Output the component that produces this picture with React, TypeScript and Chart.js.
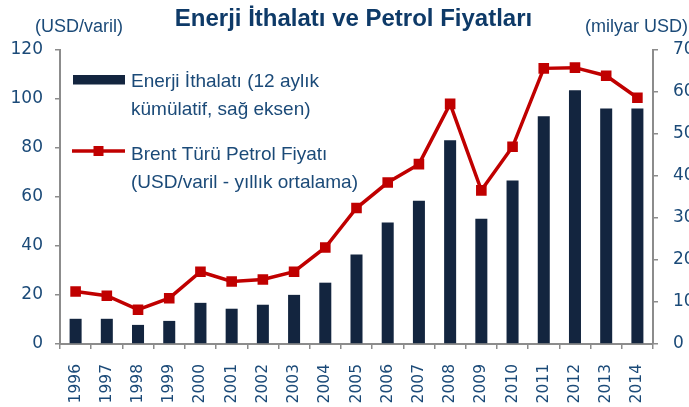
import React, { useEffect, useRef } from "react";
import { Chart, registerables } from "chart.js";

Chart.register(...registerables);

const years = ["1996","1997","1998","1999","2000","2001","2002","2003","2004","2005","2006","2007","2008","2009","2010","2011","2012","2013","2014"];
const brentPrice = [21.4, 19.7, 14.0, 18.7, 29.5, 25.5, 26.3, 29.5, 39.4, 55.5, 65.9, 73.4, 98.0, 62.7, 80.5, 112.5, 112.8, 109.5, 100.5];
const energyImports = [6.0, 6.0, 4.55, 5.5, 9.8, 8.4, 9.35, 11.7, 14.6, 21.3, 28.9, 34.1, 48.5, 29.8, 38.9, 54.2, 60.4, 56.1, 56.1];

const titleText = "Enerji İthalatı ve Petrol Fiyatları";
const leftAxisTitle = "(USD/varil)";
const rightAxisTitle = "(milyar USD)";
const barLegend = ["Enerji İthalatı (12 aylık", "kümülatif, sağ eksen)"];
const lineLegend = ["Brent Türü Petrol Fiyatı", "(USD/varil - yıllık ortalama)"];

const NAVY = "#13253f";
const RED = "#c00000";
const TEXT = "#1b4a78";
const AXIS = "#8c8c8c";

const overlayPlugin = {
  id: "overlay",
  afterDraw(chart: any) {
    const ctx = chart.ctx as CanvasRenderingContext2D;
    ctx.save();
    ctx.textBaseline = "alphabetic";
    // title
    ctx.fillStyle = "#0e3a68";
    ctx.font = "bold 24px 'Liberation Sans'";
    ctx.textAlign = "center";
    ctx.fillText(titleText, 353.5, 26);
    // axis titles
    ctx.fillStyle = TEXT;
    ctx.font = "18px 'Liberation Sans'";
    ctx.textAlign = "left";
    ctx.fillText(leftAxisTitle, 35, 32);
    ctx.fillText(rightAxisTitle, 585, 32);
    // legend
    const lx = chart.chartArea.left;
    ctx.fillStyle = NAVY;
    ctx.fillRect(lx + 13, 75, 52, 9.5);
    ctx.strokeStyle = RED;
    ctx.lineWidth = 3.5;
    ctx.beginPath();
    ctx.moveTo(lx + 12, 151);
    ctx.lineTo(lx + 65, 151);
    ctx.stroke();
    ctx.fillStyle = RED;
    ctx.fillRect(lx + 33.5, 146, 10, 10);
    ctx.fillStyle = TEXT;
    ctx.font = "19px 'Liberation Sans'";
    ctx.fillText(barLegend[0], lx + 71, 87);
    ctx.fillText(barLegend[1], lx + 71, 115);
    ctx.fillText(lineLegend[0], lx + 71, 160);
    ctx.fillText(lineLegend[1], lx + 71, 188);
    ctx.restore();
  },
};

export default function App() {
  const canvasRef = useRef<HTMLCanvasElement | null>(null);

  useEffect(() => {
    document.body.style.margin = "0";
    const canvas = canvasRef.current;
    if (!canvas) return;
    const tickFont = { family: "'DejaVu Sans'", size: 17 };
    const chart = new Chart(canvas, {
      type: "bar",
      data: {
        labels: years,
        datasets: [
          {
            type: "line",
            label: "Brent Türü Petrol Fiyatı (USD/varil - yıllık ortalama)",
            data: brentPrice,
            yAxisID: "y",
            borderColor: RED,
            backgroundColor: RED,
            borderWidth: 3.5,
            pointStyle: "rect",
            pointRadius: 7.5,
            pointBorderWidth: 0,
            pointBackgroundColor: RED,
            tension: 0,
            order: 0,
          } as any,
          {
            type: "bar",
            label: "Enerji İthalatı (12 aylık kümülatif, sağ eksen)",
            data: energyImports,
            yAxisID: "y1",
            backgroundColor: NAVY,
            borderWidth: 0,
            barPercentage: 0.385,
            categoryPercentage: 1,
            order: 1,
          },
        ],
      },
      options: {
        responsive: false,
        animation: false,
        layout: { padding: { top: 50, left: 0, right: 0, bottom: 0 } },
        plugins: {
          legend: { display: false },
          title: { display: false },
          tooltip: { enabled: false },
        },
        scales: {
          x: {
            grid: {
              display: true,
              drawOnChartArea: false,
              drawTicks: true,
              tickLength: 5,
              color: AXIS,
              lineWidth: 1.5,
              offset: true,
            },
            border: { display: true, color: AXIS, width: 2 },
            ticks: {
              color: TEXT,
              font: { family: "'DejaVu Sans'", size: 15.5 },
              minRotation: 90,
              maxRotation: 90,
              padding: 15,
              autoSkip: false,
            },
            afterFit: (scale: any) => {
              scale.height = 63;
            },
          },
          y: {
            position: "left",
            min: 0,
            max: 120,
            grid: {
              drawOnChartArea: false,
              drawTicks: true,
              tickLength: 5,
              color: AXIS,
              lineWidth: 1.5,
            },
            border: { display: true, color: AXIS, width: 2 },
            ticks: { stepSize: 20, color: TEXT, font: tickFont, padding: 12 },
            afterFit: (scale: any) => {
              scale.width = 60;
            },
          },
          y1: {
            position: "right",
            min: 0,
            max: 70,
            grid: {
              drawOnChartArea: false,
              drawTicks: true,
              tickLength: 5,
              color: AXIS,
              lineWidth: 1.5,
            },
            border: { display: true, color: AXIS, width: 2 },
            ticks: { stepSize: 10, color: TEXT, font: tickFont, padding: 15 },
            afterFit: (scale: any) => {
              scale.width = 36;
            },
          },
        },
      },
      plugins: [overlayPlugin],
    });
    return () => chart.destroy();
  }, []);

  return (
    <div style={{ width: 689, height: 407, background: "#fff" }}>
      <canvas ref={canvasRef} width={689} height={407} />
    </div>
  );
}
